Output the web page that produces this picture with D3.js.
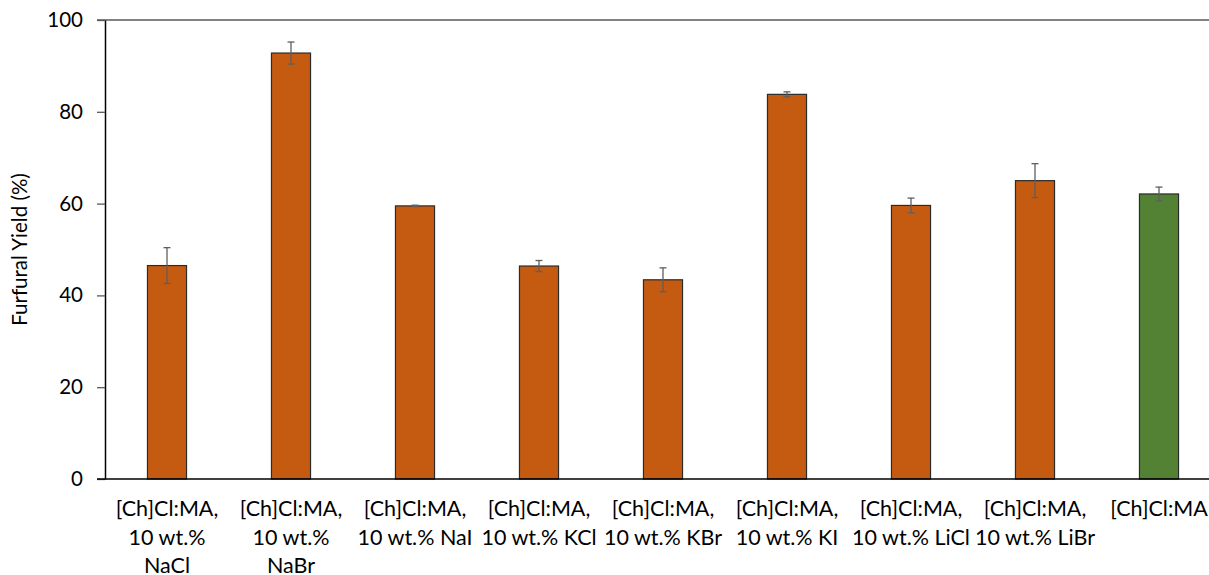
<!DOCTYPE html>
<html><head><meta charset="utf-8">
<script src="https://cdn.jsdelivr.net/npm/d3@7"></script>
<style>html,body{margin:0;padding:0;background:#fff;overflow:hidden}</style>
</head><body>
<svg id="c" width="1209" height="575"></svg>
<script>
const categories = [
  "[Ch]Cl:MA,\n10 wt.%\nNaCl",
  "[Ch]Cl:MA,\n10 wt.%\nNaBr",
  "[Ch]Cl:MA,\n10 wt.% NaI",
  "[Ch]Cl:MA,\n10 wt.% KCl",
  "[Ch]Cl:MA,\n10 wt.% KBr",
  "[Ch]Cl:MA,\n10 wt.% KI",
  "[Ch]Cl:MA,\n10 wt.% LiCl",
  "[Ch]Cl:MA,\n10 wt.% LiBr",
  "[Ch]Cl:MA"
];
const yields = [46.5, 92.8, 59.5, 46.4, 43.4, 83.8, 59.6, 65.0, 62.1];
const errors = [3.9, 2.4, 0.15, 1.2, 2.6, 0.55, 1.6, 3.7, 1.5];
const isReference = [false, false, false, false, false, false, false, false, true];
const yTicks = [0, 20, 40, 60, 80, 100];
const yTitle = "Furfural Yield (%)";

const FONT = "Lato, 'Open Sans', sans-serif";
const svg = d3.select("#c");
const m = {left: 105, top: 20, bottom: 479, right: 1221};

const y = d3.scaleLinear().domain([0, 100]).range([m.bottom, m.top]);
const x = d3.scaleBand().domain(d3.range(categories.length))
  .range([m.left, m.right]).paddingInner(0.685).paddingOuter(0.3425);

// top border line at 100
svg.append("line").attr("x1", 97).attr("x2", 1209)
  .attr("y1", y(100)).attr("y2", y(100))
  .attr("stroke", "#595959").attr("stroke-width", 1.5);

// y axis
const yAxis = svg.append("g").attr("transform", `translate(${m.left},0)`)
  .call(d3.axisLeft(y).tickValues(yTicks).tickSize(8).tickPadding(14).tickSizeOuter(0));
yAxis.select(".domain").attr("stroke", "#000").attr("stroke-width", 1.5);
yAxis.selectAll(".tick line").attr("stroke", "#595959").attr("stroke-width", 1.3);
yAxis.selectAll(".tick text").attr("font-family", FONT).attr("font-size", 20.5).attr("fill", "#000");

// bars
svg.append("g").selectAll("rect").data(yields).join("rect")
  .attr("x", (d, i) => x(i)).attr("width", x.bandwidth())
  .attr("y", d => y(d)).attr("height", d => y(0) - y(d))
  .attr("fill", (d, i) => isReference[i] ? "#548235" : "#C55A11")
  .attr("stroke", "#2b2b2b").attr("stroke-width", 1.2);

// error bars
const eg = svg.append("g").attr("stroke", "#5f5f5f").attr("stroke-width", 1.3);
yields.forEach((v, i) => {
  const cx = x(i) + x.bandwidth() / 2;
  const e = errors[i];
  eg.append("line").attr("x1", cx).attr("x2", cx).attr("y1", y(v + e)).attr("y2", y(v - e));
  eg.append("line").attr("x1", cx - 3.5).attr("x2", cx + 3.5).attr("y1", y(v + e)).attr("y2", y(v + e));
  eg.append("line").attr("x1", cx - 3.5).attr("x2", cx + 3.5).attr("y1", y(v - e)).attr("y2", y(v - e));
});

// x axis line
svg.append("line").attr("x1", 97).attr("x2", 1209)
  .attr("y1", y(0)).attr("y2", y(0)).attr("stroke", "#000").attr("stroke-width", 1.5);

// x labels
const xl = svg.append("g");
categories.forEach((c, i) => {
  const t = xl.append("text").attr("text-anchor", "middle")
    .attr("font-family", FONT).attr("font-size", 21.5).attr("fill", "#000");
  c.split("\n").forEach((line, j) => {
    t.append("tspan").attr("x", x(i) + x.bandwidth() / 2).attr("y", 516 + j * 28.5).text(line);
  });
});

// y title
svg.append("text").attr("transform", `translate(27,${(m.top + m.bottom) / 2}) rotate(-90)`)
  .attr("text-anchor", "middle").attr("font-family", FONT).attr("font-size", 20.5)
  .attr("fill", "#000").text(yTitle);
</script>
</body></html>
